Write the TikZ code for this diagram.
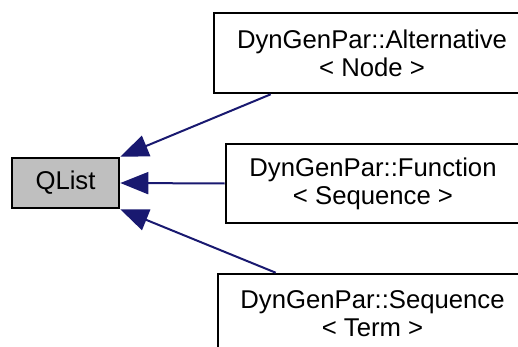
\documentclass[tikz,border=0pt]{standalone}
\usepackage{fontspec}
\setmainfont{Liberation Sans}
\usetikzlibrary{arrows.meta}
\definecolor{edgeblue}{HTML}{191970}
\definecolor{basegray}{HTML}{BFBFBF}
\begin{document}
\begin{tikzpicture}[x=1pt,y=-1pt,
  cls/.style={draw=black,line width=2.6pt,fill=white,rectangle,align=center,
    inner sep=0pt,font=\fontsize{25.7}{28}\selectfont},
  inh/.style={draw=edgeblue,line width=2pt,
    {Triangle[length=28pt,width=22pt]}-}]
\useasboundingbox (0,0) rectangle (518,347);
\clip (0,0) rectangle (518,347);
\node[cls,fill=basegray,minimum width=107pt,minimum height=50pt] (q) at (65.5,183) {QList};
\node[cls,minimum width=316pt,minimum height=80pt] (b1) at (372,53) {DynGenPar::Alternative\\\textless{} Node \textgreater};
\node[cls,minimum width=294pt,minimum height=79pt] (b2) at (373,183.5) {DynGenPar::Function\\\textless{} Sequence \textgreater};
\node[cls,minimum width=309pt,minimum height=80pt] (b3) at (372.5,314) {DynGenPar::Sequence\\\textless{} Term \textgreater};
\draw[inh] (q.north east) -- ([xshift=58pt]b1.south west);
\draw[inh] (q.east) -- (b2.west);
\draw[inh] (q.south east) -- ([xshift=59pt]b3.north west);
\end{tikzpicture}
\end{document}
